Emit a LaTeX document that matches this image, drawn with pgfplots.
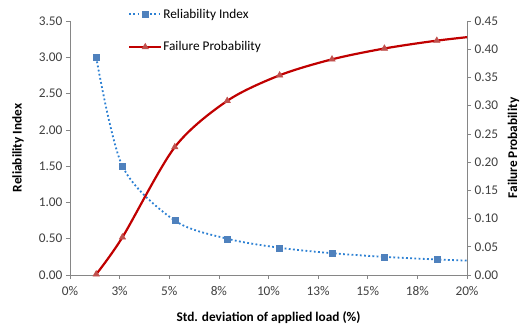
\documentclass[border=0pt]{standalone}
\usepackage{fontspec}
\setmainfont{Carlito}
\usepackage{pgfplots}
\pgfplotsset{compat=1.18}

\definecolor{riblue}{HTML}{4F81BD}
\definecolor{ridot}{HTML}{2C80D3}
\definecolor{pfred}{HTML}{C00000}
\definecolor{pfmark}{HTML}{C0504D}
\definecolor{axgray}{HTML}{868686}
\definecolor{txt}{HTML}{404040}

% x: std. deviation of applied load (%), beta: reliability index, pf: failure probability
\pgfplotstableread{
x      beta    pf
1.32   3.000   0.0013
2.64   1.500   0.0668
5.28   0.750   0.2266
7.92   0.500   0.3085
10.56  0.375   0.3538
13.20  0.300   0.3821
15.84  0.250   0.4013
18.48  0.214   0.4152
21.12  0.1875  0.4256
}\loadtable

\begin{document}
\begin{tikzpicture}[font=\fontsize{13.3bp}{16bp}\selectfont]
\pgfplotsset{
  common/.style={
    scale only axis, width=397bp, height=254bp,
    xmin=0, xmax=20, clip=true,
    axis line style={axgray, line width=0.7bp},
    tick style={axgray, line width=0.7bp},
    tick align=outside, major tick length=4bp,
    tick label style={text=txt},
    /pgf/number format/assume math mode=true,
    yticklabel style={/pgf/number format/.cd, fixed, fixed zerofill, precision=2},
  },
  ridots/.style={ridot, line width=1.8bp, dash pattern=on 1.8bp off 2.4bp},
  pfline/.style={pfred, line width=2.2bp},
  legend image code/.code={
    \draw[#1, mark repeat=2, mark phase=2] plot coordinates {(0bp,0bp) (16bp,0bp) (32bp,0bp)};
  },
}

\begin{axis}[common,
  axis y line*=left, axis x line*=bottom,
  ymin=0, ymax=3.5, ytick={0,0.5,...,3.5},
  xtick={0,2.5,...,20},
  xticklabels={0\%,3\%,5\%,8\%,10\%,13\%,15\%,18\%,20\%},
  xticklabel style={yshift=-4bp},
  xlabel={\bfseries Std. deviation of applied load (\%)},
  ylabel={\bfseries Reliability Index},
  every axis x label/.style={at={(axis description cs:0.5,0)}, yshift=-43bp, anchor=center},
  every axis y label/.style={at={(axis description cs:-0.131,0.5)}, rotate=90, anchor=center},
]
\addplot[ridots, smooth, mark=square*, mark size=3bp,
  mark options={solid, fill=riblue, draw=riblue, line width=0.4bp}]
  table[x=x, y=beta] {\loadtable};
\end{axis}

\begin{axis}[common,
  axis y line*=right, axis x line=none,
  ymin=0, ymax=0.45, ytick={0,0.05,...,0.45},
  ylabel={\bfseries Failure Probability},
  every axis y label/.style={at={(axis description cs:1.117,0.5)}, rotate=90, anchor=center},
  legend style={draw=none, fill=none, at={(axis description cs:0.146,1.052)}, anchor=north west,
    row sep=20bp, inner sep=0pt, nodes={inner sep=1bp, text=black}},
  legend cell align=left,
]
\addlegendimage{ridots, mark=square*, mark size=3bp,
  mark options={solid, fill=riblue, draw=riblue, line width=0.4bp}}
\addlegendentry{Reliability Index}
\addplot[pfline, smooth, mark=triangle*, mark size=3.8bp,
  mark options={fill=pfmark, draw=pfmark, line width=0.4bp}]
  table[x=x, y=pf] {\loadtable};
\addlegendentry{Failure Probability}
\end{axis}

\pgfresetboundingbox
\useasboundingbox (-70bp,-51bp) rectangle (452bp,275bp);
\end{tikzpicture}
\end{document}
